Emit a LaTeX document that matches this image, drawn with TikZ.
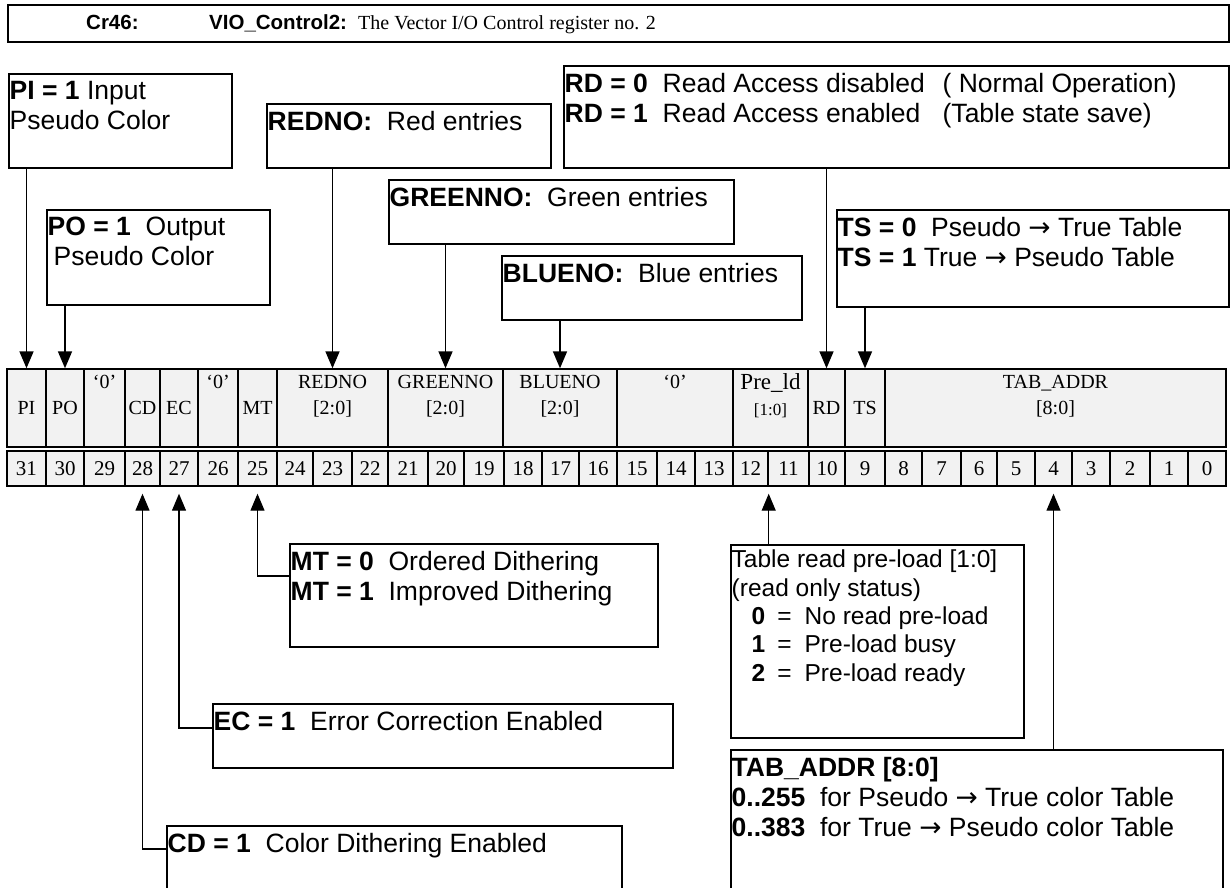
\documentclass[tikz,border=0pt]{standalone}
\usepackage{fontspec}
\setmainfont{Liberation Serif}
\setsansfont{Liberation Sans}
\newfontfamily\arrowfont{DejaVu Sans}
\usetikzlibrary{positioning,calc}
\usetikzlibrary{arrows.meta}
\definecolor{RegGray}{RGB}{242,242,242}
\tikzset{
  box/.style={draw=black,line width=1.6pt,anchor=north west,inner sep=0pt},
  note/.style={anchor=north west,align=left,inner xsep=1.5pt,inner ysep=0pt,
    font=\sffamily\fontsize{26.5}{30}\selectfont},
  small note/.style={note,font=\sffamily\fontsize{24.5}{28.3}\selectfont},
  field/.style={draw=black,fill=RegGray,line width=1.4pt,inner sep=0pt,align=center,
    minimum height=78pt,font=\fontsize{20}{26}\selectfont},
  bitno/.style={draw=black,fill=RegGray,line width=1.4pt,inner sep=0pt,
    minimum height=35pt,font=\fontsize{21}{24}\selectfont},
  down/.style={draw=black,line width=1.6pt,-{Triangle[width=14pt,length=17pt]}},
  up/.style={draw=black,line width=1.2pt,-{Triangle[width=14pt,length=17pt]},shorten >=7pt},
}

\begin{document}
\begin{tikzpicture}[x=1pt,y=-1pt]
\useasboundingbox (0,0) rectangle (1230,887);
\clip (0,0) rectangle (1230,887);

% title line
\node[box,minimum width=1221pt,minimum height=37pt] (title) at (7,4) {};
\node[anchor=base west,inner sep=0pt,font=\sffamily\bfseries\fontsize{20.5}{24}\selectfont] (regno) at (86,29) {Cr46:};
\node[anchor=base west,inner sep=0pt,font=\sffamily\bfseries\fontsize{20.5}{24}\selectfont] (regname) at (209,29) {VIO\_Control2:};
\node[anchor=base west,inner sep=0pt,font=\fontsize{20}{24}\selectfont] (regdesc) at (358,29) {The Vector I/O Control register no. 2};

% register fields
\foreach \l/\r/\nm/\txt in {7/46/fpi/PI, 46/84/fpo/PO, 84/125/fzA/{‘0’\\\mbox{}\\\mbox{}},
    125/160/fcd/CD, 160/198/fec/EC, 198/238/fzB/{‘0’\\\mbox{}\\\mbox{}}, 238/277/fmt/MT,
    277/388/fred/{REDNO\\{[2:0]}\\\mbox{}}, 388/503/fgreen/{GREENNO\\{[2:0]}\\\mbox{}},
    503/617/fblue/{BLUENO\\{[2:0]}\\\mbox{}}, 617/733/fzC/{‘0’\\\mbox{}\\\mbox{}},
    733/808/fpre/{{\fontsize{23}{26}\selectfont Pre\_ld}\\{\fontsize{17}{18}\selectfont[1:0]}\\\mbox{}},
    808/845/frd/RD, 845/885/fts/TS, 885/1226/ftab/{TAB\_ADDR\\{[8:0]}\\\mbox{}}}
  \node[field,minimum width={(\r-\l)*1pt}] (\nm) at ({(\l+\r)/2},408) {\txt};

% bit numbers
\foreach \l/\r/\n in {7/46/31, 46/84/30, 84/125/29, 125/160/28, 160/198/27, 198/238/26,
    238/277/25, 277/313/24, 313/352/23, 352/388/22, 388/428/21, 428/464/20, 464/504/19,
    504/542/18, 542/579/17, 579/617/16, 617/657/15, 657/695/14, 695/733/13, 733/768/12,
    768/809/11, 809/845/10, 845/885/9, 885/922/8, 922/961/7, 961/997/6, 997/1035/5,
    1035/1072/4, 1072/1110/3, 1110/1150/2, 1150/1188/1, 1188/1226/0}
  \node[bitno,minimum width={(\r-\l)*1pt}] (n\n) at ({(\l+\r)/2},468.5) {\n};

% boxes above
\node[box,minimum width=223pt,minimum height=94pt] (pibox) at (8,73) {};
\node[note] (pitxt) at ([yshift=-8pt]pibox.north west) {\textbf{PI = 1} Input\\Pseudo Color};
\node[box,minimum width=284pt,minimum height=64pt] (redbox) at (266,103) {};
\node[note] (redtxt) at ([yshift=-8pt]redbox.north west) {\textbf{REDNO:}~ Red entries};
\node[box,minimum width=665pt,minimum height=102pt] (rdbox) at (563,65) {};
\node[note] (rdtxt) at ([yshift=-8pt]rdbox.north west)
  {\makebox[378pt][l]{\textbf{RD = 0}~ Read Access disabled}( Normal Operation)\\
   \makebox[378pt][l]{\textbf{RD = 1}~ Read Access enabled}(Table state save)};
\node[box,minimum width=345pt,minimum height=64pt] (greenbox) at (388,179) {};
\node[note] (greentxt) at ([yshift=-8pt]greenbox.north west) {\textbf{GREENNO:}~ Green entries};
\node[box,minimum width=223pt,minimum height=95pt] (pobox) at (46,209) {};
\node[note] (potxt) at ([yshift=-8pt]pobox.north west) {\textbf{PO = 1}~ Output\\\hspace*{6pt}Pseudo Color};
\node[box,minimum width=300pt,minimum height=64pt] (bluebox) at (501,255) {};
\node[note] (bluetxt) at ([yshift=-8pt]bluebox.north west) {\textbf{BLUENO:}~ Blue entries};
\node[box,minimum width=392pt,minimum height=97pt] (tsbox) at (836,209) {};
\node[note] (tstxt) at ([yshift=-8pt]tsbox.north west)
  {\textbf{TS = 0}~ Pseudo {\arrowfont →} True Table\\\textbf{TS = 1} True {\arrowfont →} Pseudo Table};

\draw[down] (pibox.south -| fpi.north) -- (fpi.north);
\draw[down] (pobox.south -| fpo.north) -- (fpo.north);
\draw[down] (redbox.south -| fred.north) -- (fred.north);
\draw[down] (greenbox.south -| fgreen.north) -- (fgreen.north);
\draw[down] (bluebox.south -| fblue.north) -- (fblue.north);
\draw[down] (rdbox.south -| frd.north) -- (frd.north);
\draw[down] (tsbox.south -| fts.north) -- (fts.north);

% boxes below
\node[box,minimum width=368pt,minimum height=103pt] (mtbox) at (289,543) {};
\node[note] (mttxt) at ([yshift=-8pt]mtbox.north west)
  {\textbf{MT = 0}~ Ordered Dithering\\\textbf{MT = 1}~ Improved Dithering};
\node[box,minimum width=460pt,minimum height=64pt] (ecbox) at (212,703) {};
\node[note] (ectxt) at ([yshift=-8pt]ecbox.north west) {\textbf{EC = 1}~ Error Correction Enabled};
\node[box,minimum width=455pt,minimum height=100pt] (cdbox) at (166,825) {};
\node[note] (cdtxt) at ([yshift=-8pt]cdbox.north west) {\textbf{CD = 1}~ Color Dithering Enabled};
\node[box,minimum width=293pt,minimum height=193pt] (prebox) at (730,544) {};
\node[small note] (pretxt) at ([yshift=-6pt]prebox.north west)
  {Table read pre-load [1:0]\\(read only status)\\
   \hspace*{20pt}\textbf{0}\hspace{12pt}=\hspace{13pt}No read pre-load\\
   \hspace*{20pt}\textbf{1}\hspace{12pt}=\hspace{13pt}Pre-load busy\\
   \hspace*{20pt}\textbf{2}\hspace{12pt}=\hspace{13pt}Pre-load ready};
\node[box,minimum width=492pt,minimum height=160pt] (tabbox) at (730,749) {};
\node[note] (tabtxt) at ([yshift=-8pt]tabbox.north west)
  {\textbf{TAB\_ADDR [8:0]}\\\textbf{0..255}~ for Pseudo {\arrowfont →} True color Table\\
   \textbf{0..383}~ for True {\arrowfont →} Pseudo color Table};

\draw[up] (prebox.north -| n12.south east) -- (n12.south east);
\draw[up] (tabbox.north -| n4.south) -- (n4.south);
\draw[up] ($(mtbox.north west)+(0,33)$) -| (n25.south);
\draw[up] ($(ecbox.north west)+(0,25)$) -| (n27.south);
\draw[up] ($(cdbox.north west)+(0,24)$) -| (n28.south);
\end{tikzpicture}
\end{document}
